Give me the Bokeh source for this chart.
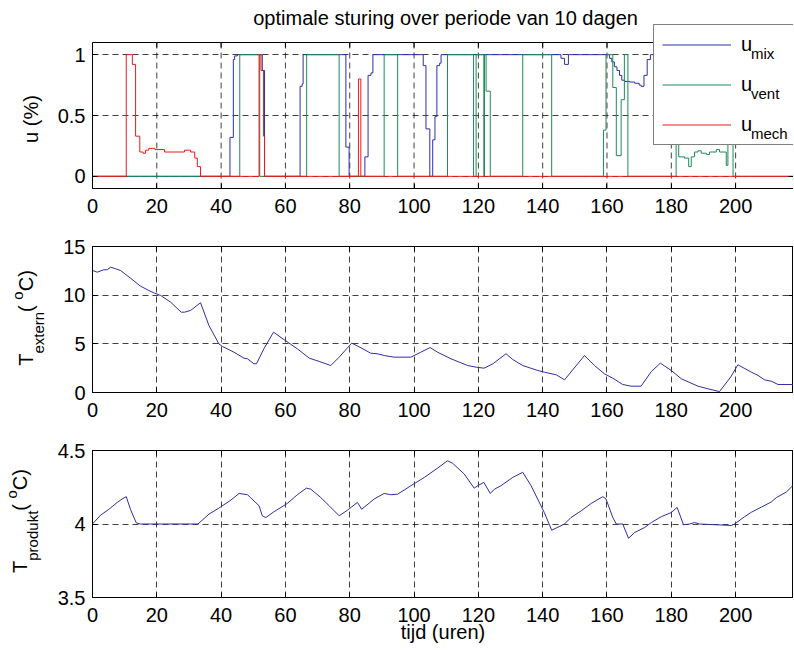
import math
from bokeh.plotting import figure
from bokeh.models import FixedTicker, LinearAxis, Label, Legend, LegendItem, Range1d, Span
from bokeh.layouts import column, row
from bokeh.embed import file_html
from bokeh.resources import INLINE

FONT = "Liberation Sans"

# ---------------- data ----------------
x_ticks = [0, 20, 40, 60, 80, 100, 120, 140, 160, 180, 200]

# u_mix (step, value holds from each time onward)
t_mix = [0, 42.75, 43.8, 44.2, 45.05, 52.8, 53.5, 64.55, 65.2, 65.5, 78.8, 79.8,
         84.7, 85.7, 86.6, 87.2, 102.85, 103.7, 104.9, 105.8, 106.5, 107.1, 107.95,
         108.4, 145.7, 146.8, 148.0, 160.8, 161.5, 162.3, 163.1, 163.9, 164.6, 165.5,
         167.0, 168.6, 170.0, 170.6, 171.5, 172.5, 173.5, 218]
u_mix = [0, 0.32, 0.96, 0.99, 1, 0.87, 0, 0.74, 0.76, 1, 0.24, 0,
         0.16, 0.83, 0.85, 1, 0.91, 0.39, 0, 0.3, 0.49, 0.91, 0.93,
         1, 0.97, 0.92, 1, 0.97, 0.94, 0.9, 0.87, 0.83, 0.79, 0.78,
         0.775, 0.765, 0.75, 0.74, 0.83, 0.96, 1, 1]

t_vent = [0, 45.8, 52.0, 66.6, 76.7, 90.7, 94.9, 110.4, 118.5, 119.3, 121.7, 121.9,
          122.4, 123.7, 133.8, 142.8, 158.9, 159.7, 161.8, 162.9, 164.4, 165.4, 166.5,
          181.5, 182.3, 184.1, 185.4, 186.2, 187.2, 188.3, 189.3, 190.9, 191.9, 194.0,
          195.0, 197.1, 197.6, 199.2, 218]
u_vent = [0, 1, 0, 1, 0, 1, 0, 1, 0, 1, 0, 1,
          0.7, 0, 1, 0, 0.38, 1, 0.73, 0.17, 0.63, 1, 0,
          1, 0.16, 0.15, 0.08, 0.16, 0.2, 0.21, 0.19, 0.18, 0.2, 0.22,
          0.2, 0.09, 1, 0, 0]

t_mech = [0, 10.5, 12.4, 13.4, 14.7, 15.7, 16.5, 17.5, 19.4, 22.4, 28.6, 30.5, 31.8,
          32.6, 33.6, 51.8, 52.4, 53.2, 53.5, 82.7, 83.45, 218]
u_mech = [0, 1, 0.92, 0.33, 0.2, 0.19, 0.215, 0.23, 0.22, 0.2, 0.215, 0.2, 0.15,
          0.08, 0, 1, 0.87, 0.33, 0, 0.8, 0, 0]

t_ext = [0, 1.45, 3.5, 4.6, 5.6, 7.2, 8.7, 11.8, 14.9, 17.5, 19.1, 21.2, 24.3, 27.6,
         28.6, 30.5, 33.6, 36.2, 39.3, 40.4, 44.0, 47.1, 48.2, 50.2, 51.0, 53.3, 56.3,
         59.6, 63.7, 67.4, 70.5, 74.1, 76.7, 80.6, 83.5, 86.5, 88.6, 90.7, 93.8, 99.0,
         102.1, 105.0, 107.3, 111.5, 116.7, 119.3, 121.8, 124.5, 128.6, 130.7, 133.8,
         138.5, 140.5, 144.2, 146.8, 153.0, 156.1, 159.2, 161.8, 164.9, 167.5, 170.6,
         173.8, 176.6, 180.0, 183.1, 188.3, 191.4, 194.5, 195.0, 198.5, 200.7, 204.9,
         207.0, 209.0, 211.1, 213.2, 218.0]
T_ext = [12.54, 12.36, 12.61, 12.61, 12.88, 12.71, 12.54, 11.75, 10.93, 10.48, 10.24,
         9.97, 9.28, 8.25, 8.25, 8.43, 9.22, 6.89, 5.0, 4.73, 4.14, 3.53, 3.46, 2.95,
         2.95, 4.49, 6.2, 5.42, 4.49, 3.53, 3.19, 2.77, 3.63, 5.07, 4.59, 4.04, 3.98,
         3.8, 3.63, 3.63, 4.14, 4.62, 4.14, 3.46, 2.77, 2.6, 2.5, 2.95, 3.98, 3.39,
         2.77, 2.26, 2.09, 1.82, 1.3, 3.8, 2.77, 1.92, 1.47, 0.82, 0.65, 0.65, 2.16,
         3.01, 2.26, 1.41, 0.65, 0.38, 0.13, 0.1, 1.6, 2.85, 2.09, 1.75, 1.3, 1.16,
         0.82, 0.82]

t_prod = [0, 2.5, 5.1, 7.7, 9.2, 10.5, 11.8, 13.6, 14.9, 32.8, 36.2, 39.3, 43.0,
          45.6, 48.2, 51.8, 52.8, 53.9, 56.4, 60.6, 63.7, 66.5, 67.9, 71.0, 73.6,
          76.7, 79.3, 82.4, 83.7, 87.6, 90.7, 92.8, 94.9, 99.0, 103.2, 107.3, 110.4,
          112.0, 115.6, 118.7, 119.8, 121.7, 123.7, 125.0, 127.0, 130.7, 133.8, 136.4,
          140.5, 142.8, 146.8, 148.8, 152.0, 155.1, 158.7, 159.7, 161.8, 162.9, 164.9,
          166.7, 168.6, 171.7, 173.8, 176.9, 180.0, 181.8, 183.8, 185.7, 187.2, 188.8,
          198.7, 199.7, 202.8, 204.9, 208.0, 211.1, 212.7, 215.8, 218.2]
T_prod = [4.0, 4.06, 4.10, 4.147, 4.17, 4.186, 4.10, 4.008, 4.0, 4.0, 4.067, 4.108,
          4.162, 4.208, 4.199, 4.124, 4.056, 4.044, 4.083, 4.14, 4.199, 4.244, 4.237,
          4.18, 4.124, 4.056, 4.094, 4.147, 4.10, 4.17, 4.208, 4.199, 4.203, 4.26,
          4.317, 4.38, 4.43, 4.413, 4.34, 4.244, 4.26, 4.283, 4.208, 4.237, 4.26,
          4.317, 4.352, 4.26, 4.078, 3.958, 4.0, 4.044, 4.09, 4.14, 4.186, 4.17,
          4.044, 4.0, 4.0, 3.903, 3.942, 3.976, 4.01, 4.05, 4.078, 4.113, 3.995, 4.0,
          4.01, 4.0, 3.99, 4.0, 4.05, 4.08, 4.115, 4.15, 4.18, 4.218, 4.27]

u_ticks = [0, 0.5, 1]
u_tick_labels = ["0", "0.5", "1"]
ext_ticks = [0, 5, 10, 15]
ext_tick_labels = ["0", "5", "10", "15"]
prod_ticks = [3.5, 4, 4.5]
prod_tick_labels = ["3.5", "4", "4.5"]

title_text = "optimale sturing over periode van 10 dagen"
xlabel_text = "tijd (uren)"
legend_main = ["u", "u", "u"]
legend_subs = ["mix", "vent", "mech"]

C_MIX = "#2f2fa8"
C_VENT = "#1f8a5a"
C_MECH = "#f01818"

# -------------- helpers ---------------
W = {'T': 0.611, 'e': 0.556, 'x': 0.5, 't': 0.278, 'r': 0.333, 'n': 0.556, ' ': 0.278,
     '(': 0.333, ')': 0.333, 'o': 0.556, 'C': 0.722, 'p': 0.556, 'd': 0.556, 'u': 0.556,
     'k': 0.5, '%': 0.889, 'm': 0.833, 'i': 0.222, 'v': 0.5, 'c': 0.5, 'h': 0.556}


def tw(s, fs):
    return sum(W.get(c, 0.556) for c in s) * fs


LAB_W = 52
X0, X1 = 0, 218


def style_axis(ax, ticks, labels, standoff):
    ax.ticker = FixedTicker(ticks=ticks)
    ax.major_label_overrides = {t: l for t, l in zip(ticks, labels)}
    ax.major_label_text_font = FONT
    ax.major_label_text_font_size = "20px"
    ax.major_label_text_color = "black"
    ax.major_tick_in = 5
    ax.major_tick_out = 0
    ax.minor_tick_line_color = None
    ax.axis_line_color = "black"
    ax.major_tick_line_color = "black"
    ax.major_label_standoff = standoff


def blank_axis(ticks, bounds="auto"):
    return LinearAxis(ticker=FixedTicker(ticks=ticks),
                      major_label_overrides={t: "" for t in ticks},
                      major_tick_in=5, major_tick_out=0, minor_tick_line_color=None,
                      major_label_standoff=0, axis_line_color="black",
                      major_label_text_font_size="1px", bounds=bounds)


def grid_style(g):
    g.grid_line_color = "black"
    g.grid_line_alpha = 0.75
    g.grid_line_dash = "6 4"
    g.grid_line_width = 1


def make_fig(yr, yticks, ylabels, top, frame_h, bottom, xlabel=None):
    p = figure(frame_width=701, frame_height=frame_h, x_range=Range1d(X0, X1),
               y_range=Range1d(*yr), output_backend="svg", toolbar_location=None,
               min_border_left=92 - LAB_W, min_border_right=0, min_border_top=top,
               min_border_bottom=bottom, background_fill_color="white",
               border_fill_color="white")
    p.outline_line_color = "black"
    p.outline_line_width = 1
    p.outline_line_alpha = 1
    xb = p.xaxis[0]
    yl = p.yaxis[0]
    style_axis(xb, x_ticks, [str(t) for t in x_ticks], 10)
    style_axis(yl, yticks, ylabels, 7)
    if xlabel:
        xb.axis_label = xlabel
        xb.axis_label_text_font = FONT
        xb.axis_label_text_font_size = "20px"
        xb.axis_label_text_font_style = "normal"
        xb.axis_label_text_color = "black"
        xb.axis_label_standoff = -4
    p.add_layout(blank_axis(x_ticks), "above")
    p.add_layout(blank_axis(yticks), "right")
    grid_style(p.xgrid[0])
    grid_style(p.ygrid[0])
    return p


def text_legend(labels, renderer, loc, size, item_h, spacing):
    """Glyph-less legend used only to carry text (drawn after the main legend)."""
    return Legend(items=[LegendItem(label=l, renderers=[renderer]) for l in labels],
                  location=loc, orientation="vertical", padding=0, spacing=spacing,
                  glyph_width=0, glyph_height=item_h, label_height=item_h,
                  label_width=10, label_standoff=0, margin=0, border_line_color=None,
                  background_fill_alpha=0, label_text_font=FONT,
                  label_text_font_size=f"{size}px", label_text_color="black",
                  label_text_baseline="alphabetic")


# -------------- top: controls ---------------
# The top panel's frame reaches up to the canvas top so that the title and the
# legend (which overlaps the axes box) are drawn inside it; the axes box itself
# spans u = -0.1 .. 1.1 at the same scale as MATLAB's 146 px box.
U_LO, U_HI = -0.1, 1.1
PX_PER_U = 146 / (U_HI - U_LO)
H1_FRAME = 188
U_TOP = U_LO + H1_FRAME / PX_PER_U

p1 = figure(frame_width=701, frame_height=H1_FRAME, x_range=Range1d(X0, X1),
            y_range=Range1d(U_LO, U_TOP), output_backend="svg", toolbar_location=None,
            min_border_left=92 - LAB_W, min_border_right=0, min_border_top=0,
            min_border_bottom=34, background_fill_color="white",
            border_fill_color="white")
p1.outline_line_color = None
style_axis(p1.xaxis[0], x_ticks, [str(t) for t in x_ticks], 10)
style_axis(p1.yaxis[0], u_ticks, u_tick_labels, 7)
p1.yaxis[0].bounds = (U_LO, U_HI)
p1.add_layout(blank_axis(u_ticks, bounds=(U_LO, U_HI)), "right")
p1.xgrid[0].visible = False
grid_style(p1.ygrid[0])
n = len(x_ticks)
p1.segment(x0=x_ticks, y0=[U_LO] * n, x1=x_ticks, y1=[U_HI] * n, line_color="black",
           line_alpha=0.75, line_dash="6 4", line_width=1)
p1.segment(x0=x_ticks, y0=[U_HI] * n, x1=x_ticks, y1=[U_HI - 5 / PX_PER_U] * n,
           line_color="black", line_width=1)
p1.add_layout(Span(location=U_HI, dimension="width", line_color="black", line_width=1))

r_mix = p1.step(t_mix, u_mix, mode="after", line_color=C_MIX, line_width=1)
r_vent = p1.step(t_vent, u_vent, mode="after", line_color=C_VENT, line_width=1)
r_mech = p1.step(t_mech, u_mech, mode="after", line_color=C_MECH, line_width=1)

p1.add_layout(Label(x=109.8, y=U_HI, y_offset=25, text=title_text, text_align="center",
                    text_baseline="alphabetic", text_font=FONT, text_font_size="20px",
                    text_color="black"))

legend = Legend(items=[LegendItem(label=legend_main[0], renderers=[r_mix]),
                       LegendItem(label=legend_main[1], renderers=[r_vent]),
                       LegendItem(label=legend_main[2], renderers=[r_mech])],
                location=(561, 43), orientation="vertical", padding=8, spacing=17,
                glyph_width=69, glyph_height=23, label_height=23, label_width=60,
                label_standoff=10, margin=0, border_line_color="black",
                border_line_width=1, background_fill_color="white",
                background_fill_alpha=1, label_text_font=FONT,
                label_text_font_size="20px", label_text_color="black",
                label_text_baseline="alphabetic")
p1.add_layout(legend)
# subscripts of the legend entries
p1.add_layout(text_legend(legend_subs, r_mix, (659, 43.5), 15, 23, 17))

# -------------- middle: T extern ---------------
p2 = make_fig((0, 15), ext_ticks, ext_tick_labels, 24, 146, 34)
p2.line(t_ext, T_ext, line_color=C_MIX, line_width=1)

# -------------- bottom: T produkt ---------------
p3 = make_fig((3.5, 4.5), prod_ticks, prod_tick_labels, 24, 147, 54, xlabel=xlabel_text)
p3.line(t_prod, T_prod, line_color=C_MIX, line_width=1)

# -------------- y-axis labels (one text strip, page pixel coordinates) ---------------
H_ALL = (H1_FRAME + 34) + (24 + 146 + 34) + (24 + 147 + 54)
lab = figure(frame_width=LAB_W, frame_height=H_ALL, x_range=Range1d(0, LAB_W),
             y_range=Range1d(0, H_ALL), x_axis_type=None, y_axis_type=None,
             output_backend="svg", toolbar_location=None, min_border=0,
             outline_line_color=None, background_fill_color="white",
             border_fill_color="white")


def rot_label(segs, base_x, center_py):
    total = sum(tw(s, fs) for s, fs, sh in segs)
    pos = (H_ALL - center_py) - total / 2
    for s, fs, sh in segs:
        lab.add_layout(Label(x=base_x + sh - 0.4 * fs, y=pos, text=s, angle=math.pi / 2,
                             text_align="left", text_baseline="alphabetic",
                             text_font=FONT, text_font_size=f"{fs}px",
                             text_color="black"))
        pos += tw(s, fs)


rot_label([("u (%)", 20, 0)], 38, 118.5)
rot_label([("T", 20, 0), ("extern", 15, 10), (" (", 20, 0), ("o", 15, -11),
           ("C)", 20, 0)], 33.5, 317.5)
rot_label([("T", 20, 0), ("produkt", 15, 10), (" (", 20, 0), ("o", 15, -11),
           ("C)", 20, 0)], 27.5, 520.5)

layout = row(lab, column(p1, p2, p3, spacing=0), spacing=0)
open("out.html", "w").write(file_html(layout, INLINE))
